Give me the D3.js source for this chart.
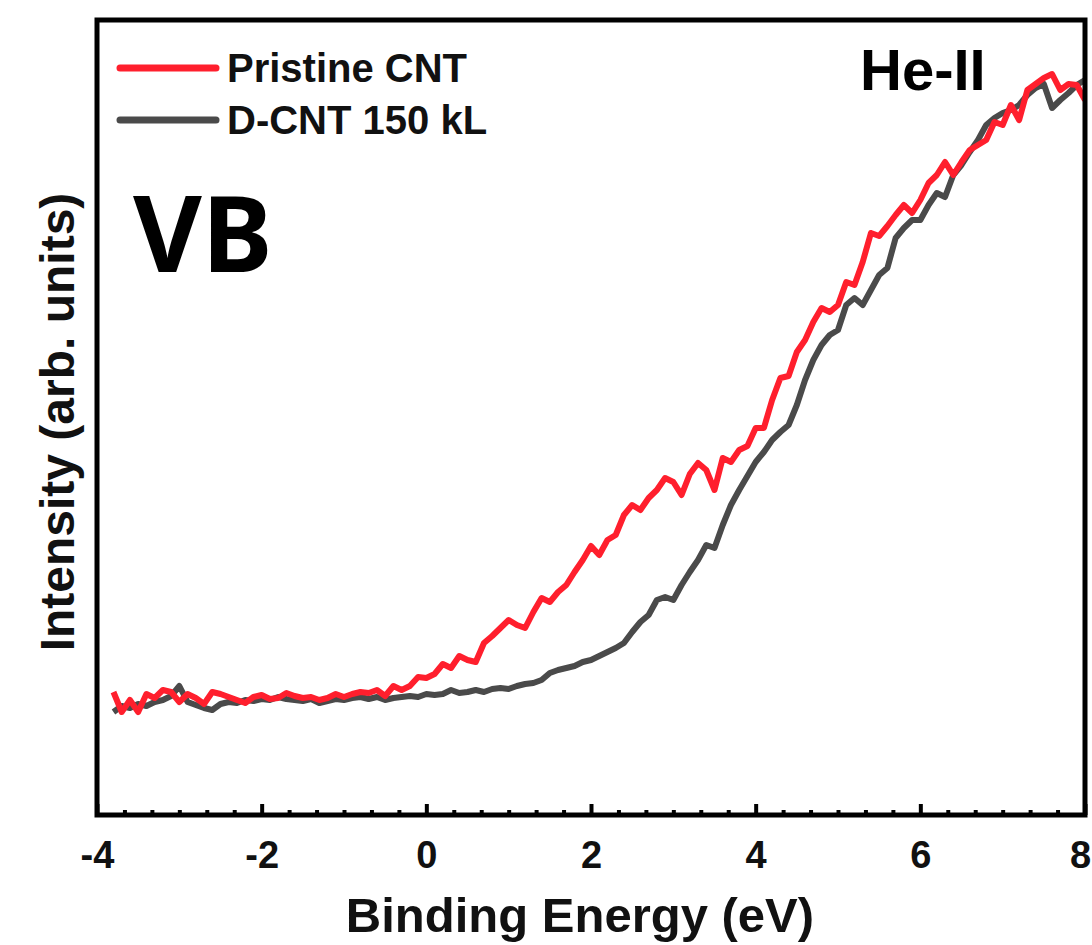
<!DOCTYPE html>
<html>
<head>
<meta charset="utf-8">
<script src="https://cdn.jsdelivr.net/npm/d3@7"></script>
<style>
  body { margin: 0; background: #fff; }
  text { font-family: "Liberation Sans", Arial, sans-serif; font-weight: bold; fill: #111; }
</style>
</head>
<body>
<div id="chart"></div>
<script>

// binding energy grid (eV), 0.1 eV steps
var energy = d3.range(-38, 81).map(function(i) { return i / 10; });

// intensities (arb. units)
var pristine = [
    123, 103, 115, 103, 121, 117, 125, 123, 113,
    121, 117, 111, 123, 121, 118, 115, 112, 118, 120,
    116, 117, 122, 119, 117, 118, 115, 117, 121, 118,
    121, 123, 122, 125, 119, 129, 125, 129, 138, 137,
    141, 151, 147, 159, 155, 153, 172, 179, 187, 195,
    190, 187, 203, 217, 213, 223, 230, 243, 255, 269,
    260, 275, 280, 300, 310, 305, 317, 325, 337, 333,
    320, 341, 352, 345, 325, 357, 353, 365, 369, 387,
    387, 415, 437, 439, 463, 475, 493, 507, 503, 510,
    533, 530, 553, 582, 579, 589, 600, 610, 602, 615,
    632, 640, 653, 640, 653, 665, 670, 675, 693, 690,
    710, 695, 725, 731, 737, 741, 725, 731, 730, 715
];

var dcnt = [
    103, 109, 107, 111, 109, 113, 115, 119, 129,
    113, 110, 107, 105, 111, 113, 112, 115, 114, 116,
    115, 118, 116, 115, 114, 116, 112, 114, 116, 115,
    117, 118, 116, 118, 115, 117, 118, 119, 118, 121,
    120, 121, 125, 122, 123, 125, 123, 126, 127, 126,
    129, 131, 132, 135, 142, 145, 147, 149, 153, 155,
    159, 163, 167, 172, 183, 193, 200, 215, 218, 215,
    230, 243, 255, 270, 267, 290, 310, 325, 339, 353,
    363, 375, 383, 390, 410, 435, 455, 470, 480, 485,
    510, 517, 510, 525, 540, 547, 577, 587, 595, 595,
    610, 622, 618, 640, 650, 663, 675, 690, 697, 702,
    705, 710, 720, 727, 731, 707, 715, 722, 730, 735
];

var seriesNames = ["Pristine CNT", "D-CNT 150 kL"];
var seriesColours = ["#ff1f2d", "#4a4a4a"];
var majorTicks = [-4, -2, 0, 2, 4, 6, 8];

var width = 1092;
var height = 945;

var margin = {
    top: 20,
    right: 7,
    bottom: 130,
    left: 97
};

var innerW = width - margin.left - margin.right;
var innerH = height - margin.top - margin.bottom;

var svg = d3.select("#chart")
    .append("svg")
    .attr("width", width)
    .attr("height", height);

var g = svg.append("g")
    .attr("transform", "translate(" + margin.left + "," + margin.top + ")");

var x = d3.scaleLinear()
    .domain([-4, 8])
    .range([0, innerW]);

var y = d3.scaleLinear()
    .domain([0, 795])
    .range([innerH, 0]);

g.append("clipPath")
    .attr("id", "plot-clip")
    .append("rect")
    .attr("width", innerW)
    .attr("height", innerH);

var line = d3.line()
    .x(function(d) { return x(d.e); })
    .y(function(d) { return y(d.v); });

function toPoints(values) {
    return values.map(function(v, i) {
        return { e: energy[i], v: v };
    });
}

// grey first so the red trace sits on top
var traces = [
    { values: dcnt, colour: seriesColours[1] },
    { values: pristine, colour: seriesColours[0] }
];

g.append("g")
    .attr("clip-path", "url(#plot-clip)")
    .selectAll("path")
    .data(traces)
    .enter()
    .append("path")
    .attr("d", function(d) { return line(toPoints(d.values)); })
    .attr("fill", "none")
    .attr("stroke", function(d) { return d.colour; })
    .attr("stroke-width", 6)
    .attr("stroke-linejoin", "round");

// minor ticks every 1/3 eV
var minorTicks = d3.range(-12, 25).map(function(i) { return i / 3; })
    .filter(function(v) { return Math.abs(v - Math.round(v / 2) * 2) > 0.01; });

g.append("g")
    .attr("class", "minor")
    .attr("transform", "translate(0," + innerH + ")")
    .call(d3.axisBottom(x).tickValues(minorTicks).tickSize(-5).tickFormat(""))
    .call(function(a) {
        a.select(".domain").remove();
        a.selectAll("line").attr("stroke", "#000").attr("stroke-width", 4);
    });

g.append("g")
    .attr("class", "x-axis")
    .attr("transform", "translate(0," + innerH + ")")
    .call(d3.axisBottom(x).tickValues(majorTicks).tickSize(-11).tickPadding(26).tickFormat(d3.format("d")))
    .call(function(a) {
        a.select(".domain").remove();
        a.selectAll("line").attr("stroke", "#000").attr("stroke-width", 4);
        a.selectAll("text")
            .attr("fill", "#111")
            .style("font-size", "38px")
            .attr("dx", function(d) { return d === 8 ? -5 : 0; })
            .text(function(d) { return d < 0 ? "-" + Math.abs(d) : d; });
    });

// frame
g.append("rect")
    .attr("width", innerW)
    .attr("height", innerH)
    .attr("fill", "none")
    .attr("stroke", "#000")
    .attr("stroke-width", 5);

// axis titles
svg.append("text")
    .attr("x", 580)
    .attr("y", 932)
    .attr("text-anchor", "middle")
    .style("font-size", "49px")
    .text("Binding Energy (eV)");

svg.append("text")
    .attr("transform", "translate(74,422) rotate(-90)")
    .attr("text-anchor", "middle")
    .style("font-size", "48px")
    .text("Intensity (arb. units)");

// legend
var legend = svg.append("g")
    .attr("class", "legend")
    .selectAll("g")
    .data(seriesNames)
    .enter()
    .append("g")
    .attr("transform", function(d, i) { return "translate(120," + (68 + i * 52) + ")"; });

legend.append("line")
    .attr("x1", 0)
    .attr("x2", 96)
    .attr("stroke", function(d, i) { return seriesColours[i]; })
    .attr("stroke-width", 7)
    .attr("stroke-linecap", "round");

legend.append("text")
    .attr("x", 107)
    .attr("y", 14)
    .style("font-size", "40px")
    .text(function(d) { return d; });

// annotations
svg.append("text")
    .attr("x", 133)
    .attr("y", 272)
    .style("font-family", "'Noto Sans', sans-serif")
    .style("font-size", "106px")
    .style("fill", "#000")
    .text("VB");

svg.append("text")
    .attr("x", 860)
    .attr("y", 90)
    .style("font-size", "58px")
    .style("fill", "#000")
    .text("He-II");

</script>
</body>
</html>
